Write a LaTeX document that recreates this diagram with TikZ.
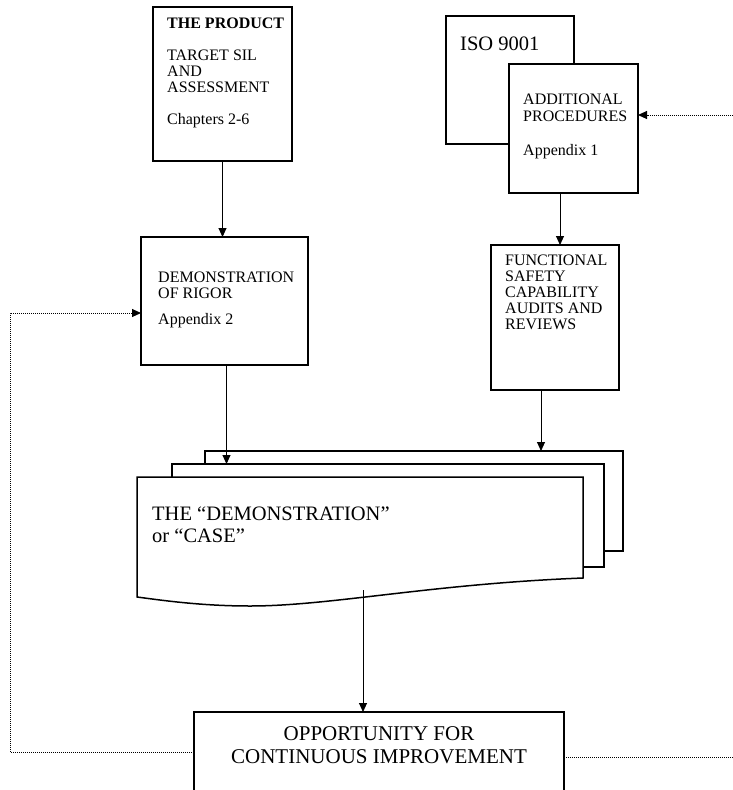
\documentclass[tikz,border=0pt]{standalone}
\usepackage{fontspec}
\setmainfont{Liberation Serif}
\usetikzlibrary{arrows.meta}
\begin{document}
\begin{tikzpicture}[x=1pt,y=-1pt,
  box/.style={draw, line width=1.5pt, fill=white, rectangle, anchor=north west, inner sep=0, outer sep=0},
  page/.style={draw, line width=1.5pt, fill=white},
  flow/.style={line width=0.9pt, -{Triangle[length=9pt,width=8pt]}},
  feedback/.style={line width=1pt, dash pattern=on 1pt off 1pt},
  feedbackarrow/.style={feedback, -{Triangle[length=9pt,width=8pt]}},
  txt/.style={anchor=base west, inner sep=0, font=\fontsize{16}{17}\selectfont},
  bigtxt/.style={anchor=base west, inner sep=0, font=\fontsize{20.5}{22}\selectfont},
  opptxt/.style={anchor=base, inner sep=0, font=\fontsize{21}{23}\selectfont}]
\useasboundingbox (0,0) rectangle (733,790);
\clip (0,0) rectangle (733,790);

% boxes
\node[box, minimum width=139pt, minimum height=154pt] (prod) at (153,7) {};
\node[box, minimum width=128pt, minimum height=128pt] (iso) at (446,16) {};
\node[box, minimum width=129pt, minimum height=129pt] (addp) at (509,64) {};
\node[box, minimum width=167pt, minimum height=128pt] (rigor) at (141,237) {};
\node[box, minimum width=128pt, minimum height=145pt] (func) at (491,245) {};
\node[box, minimum width=370pt, minimum height=100pt] (opp) at (194,712) {};

% stacked documents
\draw[page] (205,451) rectangle (623,551);
\draw[page] (172,464) rectangle (604,567);
\draw[page] (137,477) -- (583,477) -- (583,578)
  .. controls (430,584) and (330,606) .. (250,606)
  .. controls (200,606) and (160,600) .. (137,597) -- cycle;
\coordinate (backtop) at (0,451);
\coordinate (midtop) at (0,464);
\coordinate (wave) at (363,590);

% texts
\node[txt, font=\fontsize{16}{17}\selectfont\bfseries] (p1) at (167,28) {THE PRODUCT};
\node[txt] (p2) at (167,60) {TARGET SIL};
\node[txt] (p3) at (167,76) {AND};
\node[txt] (p4) at (167,92) {ASSESSMENT};
\node[txt] (p5) at (167,124) {Chapters 2-6};

\node[bigtxt] (i1) at (460,50) {ISO 9001};

\node[txt] (a1) at (523,104) {ADDITIONAL};
\node[txt] (a2) at (523,121) {PROCEDURES};
\node[txt] (a3) at (523,155) {Appendix 1};

\node[txt] (r1) at (158,282) {DEMONSTRATION};
\node[txt] (r2) at (158,298) {OF RIGOR};
\node[txt] (r3) at (158,324) {Appendix 2};

\node[txt] (f1) at (505,265) {FUNCTIONAL};
\node[txt] (f2) at (505,281) {SAFETY};
\node[txt] (f3) at (505,297) {CAPABILITY};
\node[txt] (f4) at (505,313) {AUDITS AND};
\node[txt] (f5) at (505,329) {REVIEWS};

\node[bigtxt] (d1) at (152,520) {THE “DEMONSTRATION”};
\node[bigtxt] (d2) at (152,542) {or “CASE”};

\node[opptxt] (o1) at (379,740) {OPPORTUNITY FOR};
\node[opptxt] (o2) at (379,763) {CONTINUOUS IMPROVEMENT};

% flow connectors
\draw[flow] (prod.south) -- (prod.south |- rigor.north);
\draw[flow] ([xshift=2pt]rigor.south) -- ([xshift=2pt]rigor.south |- midtop);
\draw[flow] ([xshift=-13.5pt]addp.south) -- ([xshift=-13.5pt]addp.south |- func.north);
\draw[flow] ([xshift=-14pt]func.south) -- ([xshift=-14pt]func.south |- backtop);
\draw[flow] (wave) -- (wave |- opp.north);

% feedback loops
\coordinate (inright) at (733,115);
\coordinate (outright) at (733,757);
\coordinate (loopcorner) at (10,752);
\draw[feedbackarrow] (inright) -- (inright -| addp.east);
\draw[feedback] (opp.east |- outright) -- (outright);
\draw[feedbackarrow] (opp.west |- loopcorner) -- (loopcorner) -- (10,313) -- (10,313 -| rigor.west);
\end{tikzpicture}
\end{document}
